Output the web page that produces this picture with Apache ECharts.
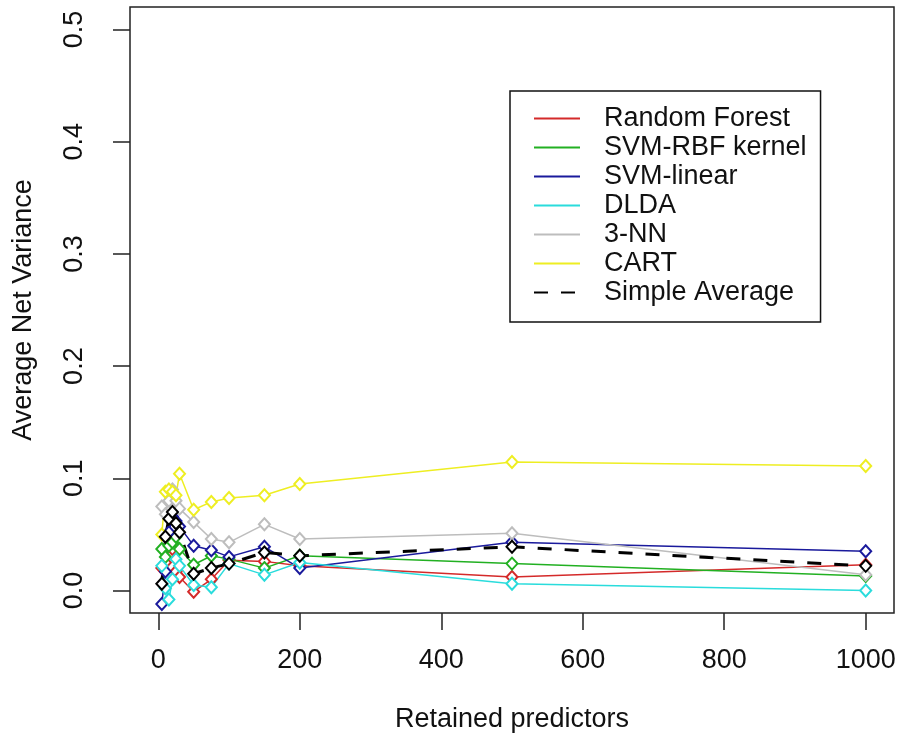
<!DOCTYPE html>
<html>
<head>
<meta charset="utf-8">
<script src="https://cdn.jsdelivr.net/npm/echarts@6/dist/echarts.min.js"></script>
<style>html,body{margin:0;padding:0;background:#fff;}#c{width:898px;height:734px;}</style>
</head>
<body>
<div id="c"></div>
<script>
const xVals = [5, 10, 15, 20, 25, 30, 50, 75, 100, 150, 200, 500, 1000];
const randomForest = [0.020, 0.025, 0.040, 0.037, 0.017, 0.012, -0.001, 0.010, 0.027, 0.026, 0.022, 0.012, 0.023];
const svmRbf = [0.037, 0.030, 0.040, 0.043, 0.048, 0.037, 0.023, 0.031, 0.028, 0.020, 0.031, 0.024, 0.013];
const svmLinear = [-0.012, 0.017, 0.052, 0.066, 0.062, 0.057, 0.040, 0.036, 0.030, 0.039, 0.020, 0.043, 0.035];
const dlda = [0.022, 0.002, -0.008, 0.010, 0.028, 0.022, 0.005, 0.003, 0.024, 0.014, 0.025, 0.006, 0.000];
const knn3 = [0.075, 0.068, 0.080, 0.090, 0.080, 0.073, 0.061, 0.046, 0.043, 0.059, 0.046, 0.051, 0.014];
const cart = [0.050, 0.088, 0.090, 0.088, 0.085, 0.104, 0.072, 0.079, 0.0825, 0.085, 0.095, 0.1145, 0.111];
const simpleAvg = [0.006, 0.048, 0.064, 0.070, 0.060, 0.052, 0.015, 0.020, 0.024, 0.034, 0.031, 0.039, 0.022];
const xTicks = [0, 200, 400, 600, 800, 1000];
const yTicks = [0, 0.1, 0.2, 0.3, 0.4, 0.5];

const seriesDefs = [
  {name: 'Random Forest', data: randomForest, color: '#d42a2a', dash: 'solid', width: 1.5},
  {name: 'SVM-RBF kernel', data: svmRbf, color: '#22b022', dash: 'solid', width: 1.5},
  {name: 'SVM-linear', data: svmLinear, color: '#1a1a9c', dash: 'solid', width: 1.5},
  {name: 'DLDA', data: dlda, color: '#2adcdc', dash: 'solid', width: 1.5},
  {name: '3-NN', data: knn3, color: '#bdbdbd', dash: 'solid', width: 1.5},
  {name: 'CART', data: cart, color: '#eeee22', dash: 'solid', width: 1.5},
  {name: 'Simple Average', data: simpleAvg, color: '#000000', dash: [14, 13], width: 3}
];

const font = 'Liberation Sans, Arial, sans-serif';
const chart = echarts.init(document.getElementById('c'), null, {renderer: 'canvas'});
chart.setOption({
  animation: false,
  backgroundColor: '#fff',
  grid: {left: 130, right: 4, top: 7, bottom: 121, outerBoundsMode: 'none', containLabel: false,
    show: true, borderColor: '#222', borderWidth: 1.5, backgroundColor: 'transparent'},
  xAxis: {
    type: 'value', min: -40, max: 1040,
    name: 'Retained predictors', nameLocation: 'middle', nameGap: 93,
    nameTextStyle: {fontSize: 27, fontFamily: font, color: '#111'},
    axisLine: {show: false, onZero: false},
    splitLine: {show: false},
    axisTick: {show: true, length: 17, inside: false, customValues: xTicks, lineStyle: {color: '#222', width: 1.5}},
    axisLabel: {customValues: xTicks, margin: 34, fontSize: 27, fontFamily: font, color: '#111',
      formatter: v => String(v)}
  },
  yAxis: {
    type: 'value', min: -0.02, max: 0.52,
    name: 'Average Net Variance', nameLocation: 'middle', nameGap: 93, nameRotate: 90,
    nameTextStyle: {fontSize: 27, fontFamily: font, color: '#111'},
    axisLine: {show: false, onZero: false},
    splitLine: {show: false},
    axisTick: {show: true, length: 17, inside: false, customValues: yTicks, lineStyle: {color: '#222', width: 1.5}},
    axisLabel: {customValues: yTicks, rotate: 90, margin: 42, fontSize: 27, fontFamily: font, color: '#111',
      formatter: v => v.toFixed(1)}
  },
  legend: {
    orient: 'vertical', left: 510, top: 91,
    padding: [13, 14, 15, 23],
    borderColor: '#111', borderWidth: 1.5, backgroundColor: '#fff',
    itemWidth: 46, itemHeight: 14, itemGap: 0,
    itemStyle: {opacity: 0},
    textStyle: {fontSize: 27, fontFamily: font, color: '#111', lineHeight: 29, padding: [0, 0, 0, 19]},
    data: seriesDefs.map(s => s.name)
  },
  series: seriesDefs.map(s => ({
    name: s.name,
    type: 'line',
    data: xVals.map((x, i) => [x, s.data[i]]),
    symbol: 'emptyDiamond',
    symbolSize: [11, 12],
    color: s.color,
    lineStyle: {color: s.color, width: s.width, type: s.dash},
    itemStyle: {color: s.color, borderColor: s.color, borderWidth: 1.3},
    emphasis: {disabled: true}
  }))
});
</script>
</body>
</html>
